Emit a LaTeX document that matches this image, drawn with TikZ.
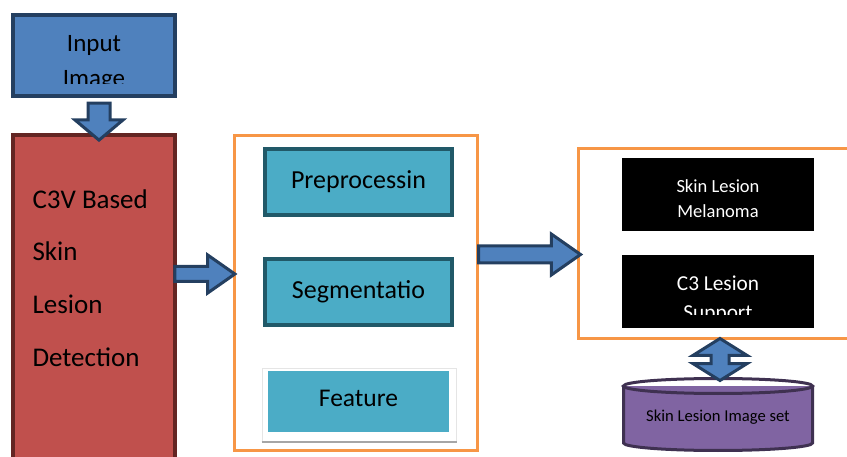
\documentclass[tikz,border=0pt]{standalone}
\usepackage{fontspec}
\setmainfont{Carlito}
\usetikzlibrary{shapes.arrows}

\definecolor{boxblue}{HTML}{4F81BD}
\definecolor{navy}{HTML}{243F60}
\definecolor{boxred}{HTML}{C0504D}
\definecolor{darkred}{HTML}{632523}
\definecolor{frameorange}{HTML}{F79646}
\definecolor{boxteal}{HTML}{4BACC6}
\definecolor{darkteal}{HTML}{215968}
\definecolor{boxpurple}{HTML}{8064A2}
\definecolor{darkpurple}{HTML}{3F3151}

\begin{document}
\begin{tikzpicture}[x=1pt,y=-1pt,
    blockarrow/.style={single arrow,draw=navy,fill=boxblue,line width=3pt,inner xsep=0pt,single arrow head indent=0pt},
    stage/.style={draw=darkteal,fill=boxteal,line width=4pt,minimum width=187pt,minimum height=66pt,font=\fontsize{26}{30}\selectfont},
    result/.style={fill=black,minimum width=192pt,minimum height=73pt},
    frame/.style={draw=frameorange,line width=3pt}]

	\useasboundingbox (0,0) rectangle (847,457);
	\clip (0,0) rectangle (847,457);

	\node[draw=navy,fill=boxblue,line width=4pt,minimum width=162pt,minimum height=81pt] (input) at (94,55.5) {};
	\begin{scope}
		\clip (13,15) rectangle (175,84);
		\node[align=center,font=\fontsize{25}{35}\selectfont] (inputtext) at (94,63.5) {Input\\Image};
	\end{scope}

	\node[draw=darkred,fill=boxred,line width=4pt,minimum width=162pt,minimum height=343pt] (detect) at (94,306.5) {};
	\node[anchor=west,align=left,font=\fontsize{27}{52.7}\selectfont] (detecttext) at (29,278) {C3V Based\\Skin\\Lesion\\Detection};

	\node[blockarrow,shape border rotate=270,inner sep=9.5pt,minimum height=37pt,single arrow head extend=13pt,single arrow tip angle=100] (arrowin) at (99,117) {};

	\node[frame,minimum width=243pt,minimum height=315pt] (pipeline) at (356,293) {};
	\node[stage] (preproc) at (358.5,182) {Preprocessin};
	\node[stage] (segment) at (358.5,292) {Segmentatio};
	\node[fill=white,draw=black!10,line width=1pt,minimum width=194pt,minimum height=73pt] (featpanel) at (359,405) {};
	\draw[black!35,line width=2.5pt] (featpanel.south west) -- (featpanel.south east);
	\node[fill=boxteal,minimum width=181pt,minimum height=61pt] (feature) at (358.5,401.5) {};
	\node[font=\fontsize{25.5}{30}\selectfont] (featuretext) at (358.5,398) {Feature};

	\node[blockarrow,inner ysep=6pt,minimum height=60pt,single arrow head extend=11.5pt,single arrow tip angle=70] (arrowstage) at (199.5,274) {};

	\node[frame,minimum width=300pt,minimum height=190pt] (output) at (728.5,243.5) {};
	\node[result] (melanoma) at (718,194.5) {};
	\node[text=white,align=center,font=\fontsize{18.5}{25}\selectfont] (melanomatext) at (718,198.5) {Skin Lesion\\Melanoma};
	\node[result] (support) at (718,292) {};
	\begin{scope}
		\clip (622,256) rectangle (814,315);
		\node[text=white,align=center,font=\fontsize{21.3}{29}\selectfont] (supporttext) at (718,299.5) {C3 Lesion\\Support};
	\end{scope}

	\node[blockarrow,inner ysep=7pt,minimum height=102pt,single arrow head extend=12pt,single arrow tip angle=70] (arrowout) at (523.5,254.5) {};

	% image set drum
	\fill[boxpurple] (623.5,386) rectangle (812.5,443);
	\fill[boxpurple] (718,443) ellipse [x radius=94.5pt,y radius=7.5pt];
	\draw[darkpurple,line width=3pt] (623.5,386) -- (623.5,443) arc[start angle=180,end angle=360,x radius=94.5pt,y radius=7.5pt] -- (812.5,386);
	\draw[darkpurple,line width=3pt] (718,386) ellipse [x radius=94.5pt,y radius=7.5pt];
	\node[font=\fontsize{16.6}{20}\selectfont] (imageset) at (718,417) {Skin Lesion Image set};

	\node[double arrow,draw=navy,fill=boxblue,line width=3pt,inner sep=7.5pt,shape border rotate=90,minimum height=42pt,double arrow head extend=18pt,double arrow tip angle=116] (link) at (720,359.5) {};
\end{tikzpicture}
\end{document}
